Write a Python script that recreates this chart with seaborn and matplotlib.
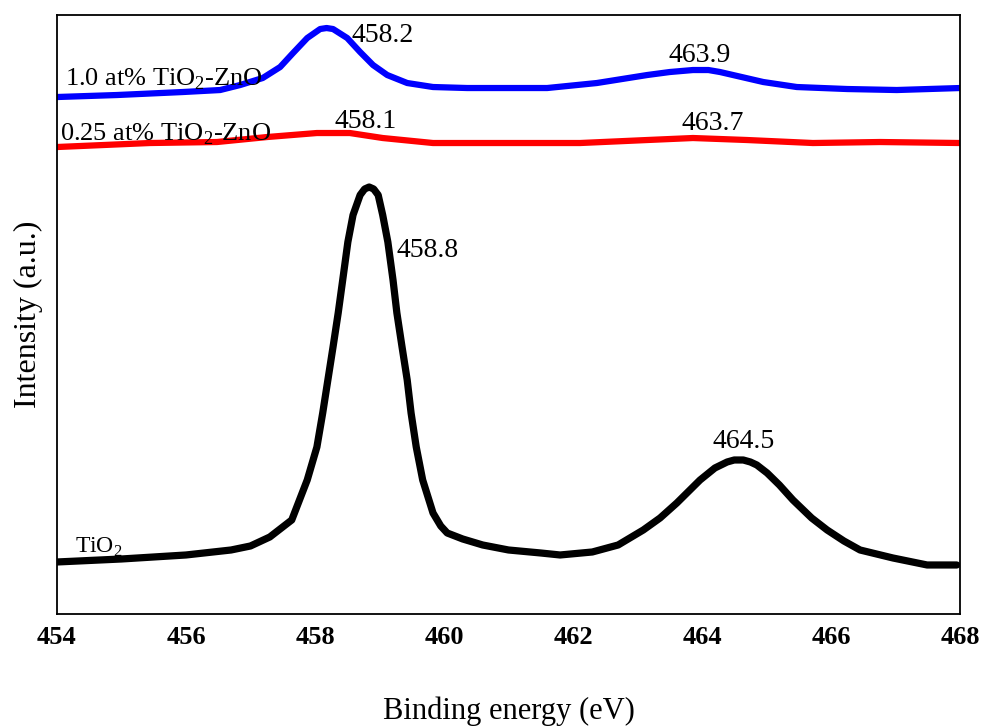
import numpy as np
import pandas as pd
import matplotlib.pyplot as plt
import seaborn as sns

# Ti 2p XPS (intensidad en u.a.)
energia_tio2 = [454.0, 455.0, 456.0, 456.7, 457.0, 457.3, 457.64, 457.88, 458.03,
                458.12, 458.2, 458.28, 458.36, 458.43, 458.51, 458.59, 458.7,
                458.77, 458.84, 458.91, 458.98, 459.05, 459.13, 459.21, 459.27,
                459.35, 459.43, 459.49, 459.57, 459.67, 459.83, 459.95, 460.05,
                460.29, 460.6, 461.0, 461.5, 461.8, 462.3, 462.7, 463.09, 463.35,
                463.61, 463.97, 464.2, 464.39, 464.5, 464.64, 464.75, 464.85,
                465.01, 465.2, 465.41, 465.7, 465.94, 466.2, 466.45, 466.96,
                467.49, 467.95]
int_tio2 = [52, 55, 59, 64, 68, 77, 94, 134, 167,
            201, 234, 267, 301, 334, 372, 399, 419,
            425, 427, 425, 419, 399, 372, 334, 301,
            267, 234, 201, 167, 134, 101, 88, 81,
            75, 69, 64, 61, 59, 62, 69, 84, 96,
            111, 134, 146, 152, 154, 154, 152, 149,
            141, 129, 114, 96, 84, 73, 64, 56,
            49, 49]

energia_025 = [454.0, 455.44, 456.48, 457.26, 458.03, 458.54, 459.05, 459.83,
               460.87, 462.11, 463.15, 463.86, 464.7, 465.72, 466.76, 468.0]
int_025 = [467, 471, 472, 477, 481, 481, 476, 471,
           471, 471, 474, 476, 474, 471, 472, 471]

energia_10 = [454.0, 454.93, 455.95, 456.53, 456.84, 457.19, 457.46, 457.66, 457.88,
              458.08, 458.18, 458.28, 458.5, 458.7, 458.9, 459.12, 459.43,
              459.83, 460.36, 460.87, 461.6, 462.37, 463.15, 463.5, 463.86,
              464.1, 464.28, 464.95, 465.47, 466.25, 467.02, 468.0]
int_10 = [517, 519, 522, 524, 529, 536, 547, 561, 576,
          585, 586, 585, 576, 562, 549, 539, 531,
          527, 526, 526, 526, 531, 539, 542, 544,
          544, 542, 532, 527, 525, 524, 526]

etiquetas_picos = [
    ("458.2", 458.57, 572, "left"),
    ("463.9", 463.97, 552, "center"),
    ("458.1", 458.78, 486, "center"),
    ("463.7", 464.17, 484, "center"),
    ("458.8", 459.27, 357, "left"),
    ("464.5", 464.65, 166, "center"),
]

sns.set_style("white")
plt.rcParams["font.family"] = ["Liberation Serif", "DejaVu Serif"]
plt.rcParams["mathtext.fontset"] = "custom"
plt.rcParams["mathtext.rm"] = "Liberation Serif"
plt.rcParams["text.color"] = "black"
plt.rcParams["axes.labelcolor"] = "black"
plt.rcParams["xtick.color"] = "black"

fig, ax = plt.subplots(figsize=(9.82, 7.26), dpi=100)
fig.subplots_adjust(left=0.058, right=0.9776, bottom=0.1543, top=0.9793)

series = [
    (energia_tio2, int_tio2, "black", 5.2),
    (energia_025, int_025, "#ff0000", 4.5),
    (energia_10, int_10, "#0000ff", 4.5),
]
for x, y, color, lw in series:
    sns.lineplot(x=x, y=y, color=color, linewidth=lw, ax=ax,
                 solid_joinstyle="round", solid_capstyle="round")

for texto, x, y, ha in etiquetas_picos:
    ax.text(x, y, texto, ha=ha, va="baseline", fontsize=20)

ax.text(454.12, 529, r"1.0 at% TiO$_{\mathrm{2}}$-ZnO", ha="left", va="baseline", fontsize=19)
ax.text(454.05, 474, r"0.25 at% TiO$_{\mathrm{2}}$-ZnO", ha="left", va="baseline", fontsize=19)
ax.text(454.28, 61, r"TiO$_{\mathrm{2}}$", ha="left", va="baseline", fontsize=17)

ax.set_xlim(454, 468)
ax.set_ylim(0, 599)
ax.set_xticks(range(454, 469, 2))
ax.set_yticks([])
ax.tick_params(axis="x", length=0, pad=9, labelsize=19)
for lab in ax.get_xticklabels():
    lab.set_fontweight("bold")

ax.set_xlabel("Binding energy (eV)", fontsize=22, labelpad=34)
ax.set_ylabel("Intensity (a.u.)", fontsize=23, labelpad=10)

for s in ax.spines.values():
    s.set_visible(True)
    s.set_color("black")
    s.set_linewidth(1.3)

plt.savefig("out.png", dpi=100)
